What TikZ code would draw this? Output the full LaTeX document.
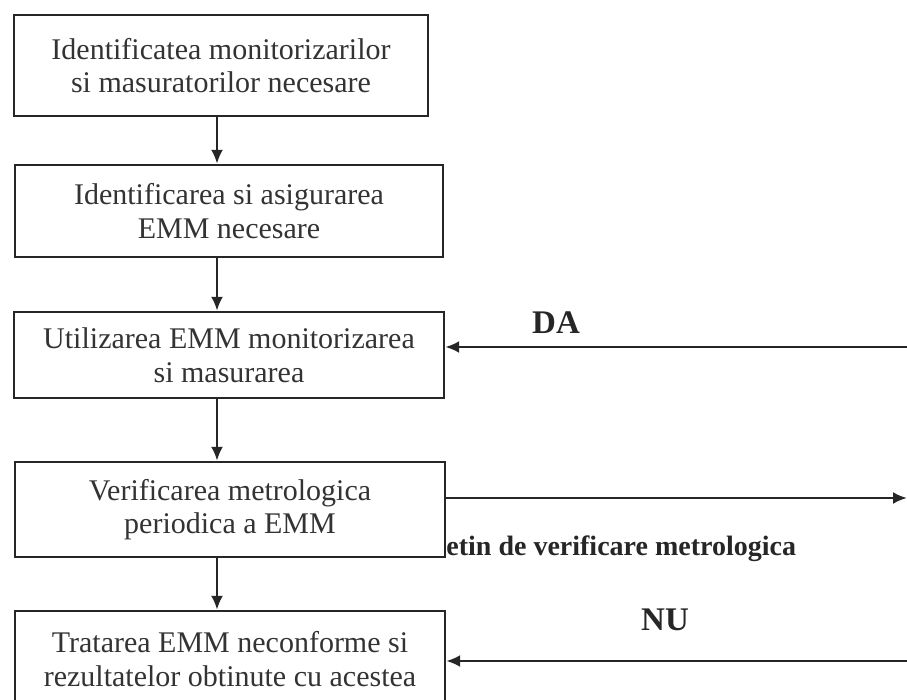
\documentclass[tikz,border=0pt]{standalone}
\usepackage{fontspec}
\setmainfont{Liberation Serif}
\usetikzlibrary{arrows.meta}
\begin{document}
\begin{tikzpicture}[x=1pt,y=-1pt,
    box/.style={draw=black!85,line width=2.4pt,align=center,inner sep=0pt,
      text=black!80,font=\fontsize{30}{33.5}\selectfont},
    flow/.style={draw=black!85,line width=2.4pt,-{Latex[length=14pt,width=12pt]}},
    tag/.style={text=black!85,font=\bfseries\fontsize{33}{33}\selectfont},
    smalltag/.style={text=black!85,inner sep=0pt,font=\bfseries\fontsize{28}{28}\selectfont}]
  \useasboundingbox (0,0) rectangle (907,700); \clip (0,0) rectangle (907,700);
  \node[box,minimum width=414pt,minimum height=101pt] (ident) at (221,65.5)
    {Identificatea monitorizarilor\\si masuratorilor necesare};
  \node[box,minimum width=428pt,minimum height=92pt] (asig) at (229,211)
    {Identificarea si asigurarea\\EMM necesare};
  \node[box,minimum width=430pt,minimum height=86pt] (util) at (229,355)
    {Utilizarea EMM monitorizarea\\si masurarea};
  \node[box,minimum width=430pt,minimum height=95pt] (verif) at (230,509.5)
    {Verificarea metrologica\\periodica a EMM};
  \node[box,minimum width=430pt,minimum height=96pt] (trat) at (230,659)
    {Tratarea EMM neconforme si\\rezultatelor obtinute cu acestea};
  \coordinate (spine) at (217,0);
  \draw[flow] (ident.south -| spine) -- (asig.north -| spine);
  \draw[flow] (asig.south -| spine) -- (util.north -| spine);
  \draw[flow] (util.south -| spine) -- (verif.north -| spine);
  \draw[flow] (verif.south -| spine) -- (trat.north -| spine);
  \coordinate (daIn) at (912,347); \draw[flow] (daIn) -- (daIn -| util.east);
  \node[tag] (da) at (556,323) {DA};
  \coordinate (bulOut) at (907,498); \draw[flow] (bulOut -| verif.east) -- (bulOut);
  \coordinate (bulRow) at (0,549);
  \node[smalltag,anchor=west] (bul) at (bulRow -| verif.east) {etin de verificare metrologica};
  \coordinate (nuIn) at (912,661); \draw[flow] (nuIn) -- (nuIn -| trat.east);
  \node[tag] (nu) at (665,620) {NU};
\end{tikzpicture}
\end{document}
